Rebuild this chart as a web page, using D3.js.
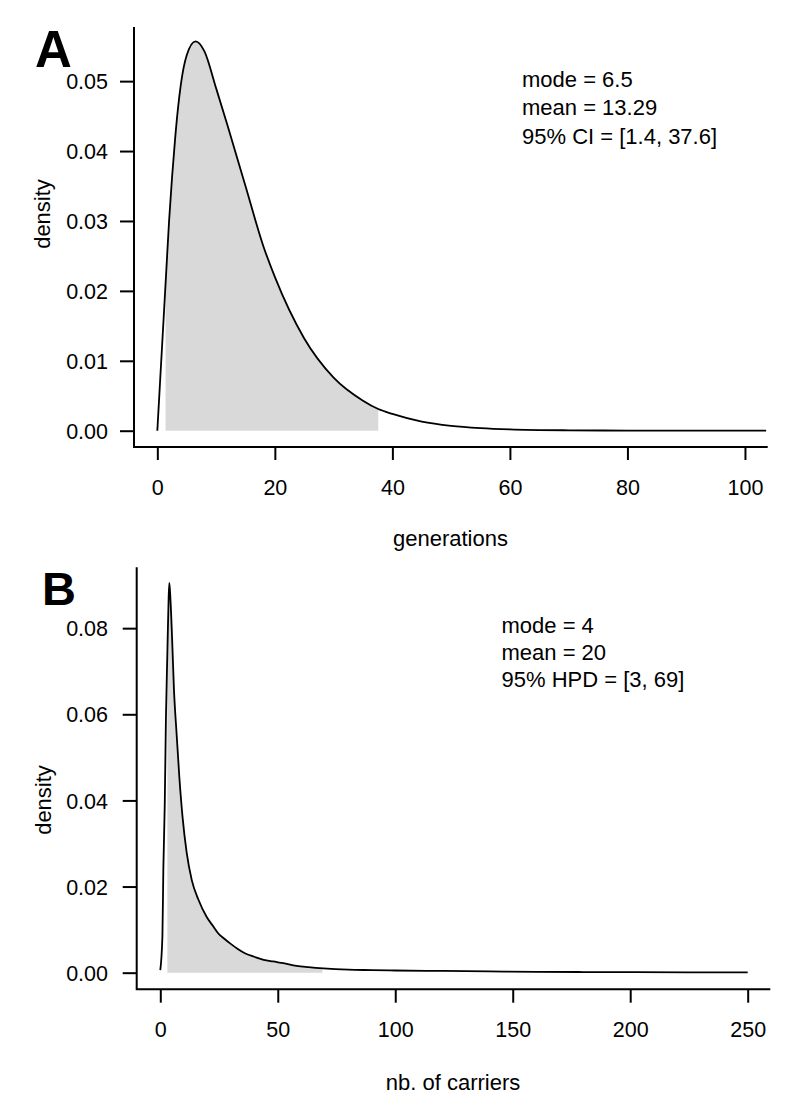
<!DOCTYPE html>
<html>
<head>
<meta charset="utf-8">
<script src="https://cdn.jsdelivr.net/npm/d3@7"></script>
<style>
  html, body { margin: 0; padding: 0; background: #ffffff; }
  svg { display: block; }
  text { font-family: "Liberation Sans", Arial, sans-serif; fill: #000; }
</style>
</head>
<body>
<svg id="chart" width="800" height="1117"></svg>
<script>
// ---------- data ----------
// Panel A: generations
const genX       = [0, 0.5, 1, 1.5, 2, 2.5, 3, 3.5, 4, 5, 6.5, 8, 10, 12, 15, 18, 20, 25, 30, 35, 37.6, 40, 45, 50, 55, 60, 70, 80, 90, 103.6];
const genDensity = [0, 0.0075, 0.0150, 0.0225, 0.0300, 0.0362, 0.0415, 0.0460, 0.0495, 0.0537, 0.0557, 0.0543, 0.0490, 0.0435, 0.0350, 0.0265, 0.0220, 0.0132, 0.0076, 0.0043, 0.0031, 0.0024, 0.0013, 0.0007, 0.00038, 0.0002, 0.00006, 0.00002, 0.00001, 0];
const genTicksX  = [0, 20, 40, 60, 80, 100];
const genTicksY  = [0, 0.01, 0.02, 0.03, 0.04, 0.05];
const genInterval = [1.4, 37.6];
const genStats   = ["mode = 6.5", "mean = 13.29", "95% CI = [1.4, 37.6]"];

// Panel B: number of carriers
const carX       = [0, 0.9, 1.3, 1.9, 2.4, 3.0, 3.55, 3.85, 4.3, 5.0, 5.8, 7.0, 8.1, 9.5, 11.2, 13.4, 16.2, 19.7, 22.6, 24.7, 27, 29.7, 33, 36, 40, 44, 48, 52.4, 58, 63, 69.4, 80, 90, 100, 120, 140, 160, 180, 200, 225, 250];
const carDensity = [0.0006, 0.0084, 0.024, 0.039, 0.059, 0.074, 0.087, 0.0905, 0.087, 0.078, 0.066, 0.055, 0.0455, 0.036, 0.028, 0.0215, 0.017, 0.013, 0.0107, 0.0091, 0.0080, 0.0068, 0.0055, 0.0045, 0.0037, 0.0030, 0.0026, 0.0022, 0.0016, 0.0013, 0.0010, 0.0007, 0.0006, 0.0005, 0.0004, 0.0003, 0.0002, 0.00015, 0.00012, 0.00008, 0.00005];
const carTicksX  = [0, 50, 100, 150, 200, 250];
const carTicksY  = [0, 0.02, 0.04, 0.06, 0.08];
const carInterval = [3, 69];
const carStats   = ["mode = 4", "mean = 20", "95% HPD = [3, 69]"];

// ---------- layout ----------
const FS_TICK = 21.5;
const FS_TEXT = 22;
const svg = d3.select("#chart");

const panels = [
  {
    id: "A", letter: "A", letterX: 35, letterY: 66.5, letterSize: 51,
    x: genX, y: genDensity, ticksX: genTicksX, ticksY: genTicksY, interval: genInterval, stats: genStats,
    xDomain: [-3.97, 103.7], yDomain: [-0.00233, 0.0576],
    left: 134, right: 766.7, top: 28, bottom: 447,
    yTickLen: 14, yLabelRight: 108, xTickLen: 13, xLabelBaseline: 495,
    xTitle: "generations", xTitleX: 450.5, xTitleY: 546,
    yTitleX: 50, yTitleY: 214,
    statsX: 522, statsY: 86.5, statsGap: 28.7
  },
  {
    id: "B", letter: "B", letterX: 42, letterY: 605, letterSize: 47,
    x: carX, y: carDensity, ticksX: carTicksX, ticksY: carTicksY, interval: carInterval, stats: carStats,
    xDomain: [-10.04, 259.2], yDomain: [-0.00386, 0.0939],
    left: 136.7, right: 769.3, top: 568.3, bottom: 989.3,
    yTickLen: 14, yLabelRight: 108, xTickLen: 13.4, xLabelBaseline: 1036.7,
    xTitle: "nb. of carriers", xTitleX: 453, xTitleY: 1090,
    yTitleX: 51, yTitleY: 800,
    statsX: 501.5, statsY: 633.3, statsGap: 27
  }
];

panels.forEach(p => {
  const g = svg.append("g").attr("class", "panel-" + p.id);
  const xs = d3.scaleLinear().domain(p.xDomain).range([p.left, p.right]);
  const ys = d3.scaleLinear().domain(p.yDomain).range([p.bottom, p.top]);
  const pts = p.x.map((v, i) => [v, p.y[i]]);

  // shaded interval (area clipped to interval)
  const clipId = "clip-" + p.id;
  g.append("clipPath").attr("id", clipId)
    .append("rect")
    .attr("x", xs(p.interval[0]))
    .attr("width", xs(p.interval[1]) - xs(p.interval[0]))
    .attr("y", p.top - 10)
    .attr("height", p.bottom - p.top + 20);

  const area = d3.area()
    .x(d => xs(d[0])).y0(ys(0)).y1(d => ys(d[1]))
    .curve(d3.curveMonotoneX);
  g.append("path").datum(pts)
    .attr("d", area)
    .attr("fill", "#d9d9d9")
    .attr("stroke", "none")
    .attr("clip-path", "url(#" + clipId + ")");

  // density curve
  const line = d3.line().x(d => xs(d[0])).y(d => ys(d[1])).curve(d3.curveMonotoneX);
  g.append("path").datum(pts)
    .attr("d", line)
    .attr("fill", "none")
    .attr("stroke", "#000")
    .attr("stroke-width", 1.8)
    .attr("stroke-linejoin", "round");

  // y axis
  const yAxis = d3.axisLeft(ys).tickValues(p.ticksY).tickFormat(d3.format(".2f"))
    .tickSize(p.yTickLen).tickSizeOuter(0);
  const ya = g.append("g").attr("transform", `translate(${p.left},0)`).call(yAxis);
  ya.select(".domain").remove();
  ya.selectAll(".tick line").attr("stroke", "#000").attr("stroke-width", 2);
  ya.selectAll(".tick text")
    .attr("x", p.yLabelRight - p.left)
    .attr("dy", null)
    .attr("y", FS_TICK * 0.358)
    .attr("font-size", FS_TICK)
    .attr("font-family", '"Liberation Sans", Arial, sans-serif')
    .attr("fill", "#000");

  // x axis
  const xAxis = d3.axisBottom(xs).tickValues(p.ticksX).tickFormat(d3.format("d"))
    .tickSize(p.xTickLen).tickSizeOuter(0);
  const xa = g.append("g").attr("transform", `translate(0,${p.bottom})`).call(xAxis);
  xa.select(".domain").remove();
  xa.selectAll(".tick line").attr("stroke", "#000").attr("stroke-width", 2);
  xa.selectAll(".tick text")
    .attr("dy", null)
    .attr("y", p.xLabelBaseline - p.bottom)
    .attr("font-size", FS_TICK)
    .attr("font-family", '"Liberation Sans", Arial, sans-serif')
    .attr("fill", "#000");

  // L-shaped box
  g.append("path")
    .attr("d", `M${p.left},${p.top}V${p.bottom}H${p.right}`)
    .attr("fill", "none").attr("stroke", "#000").attr("stroke-width", 2)
    .attr("stroke-linecap", "square");

  // titles
  g.append("text").attr("x", p.xTitleX).attr("y", p.xTitleY)
    .attr("text-anchor", "middle").attr("font-size", FS_TEXT).text(p.xTitle);
  g.append("text")
    .attr("transform", `translate(${p.yTitleX},${p.yTitleY}) rotate(-90)`)
    .attr("text-anchor", "middle").attr("font-size", FS_TEXT).text("density");

  // panel letter
  g.append("text").attr("x", p.letterX).attr("y", p.letterY)
    .attr("font-size", p.letterSize).attr("font-weight", "bold").text(p.letter);

  // stats text
  g.selectAll("text.stat").data(p.stats).enter().append("text")
    .attr("class", "stat")
    .attr("x", p.statsX)
    .attr("y", (d, i) => p.statsY + i * p.statsGap)
    .attr("font-size", FS_TEXT)
    .text(d => d);
});
</script>
</body>
</html>
